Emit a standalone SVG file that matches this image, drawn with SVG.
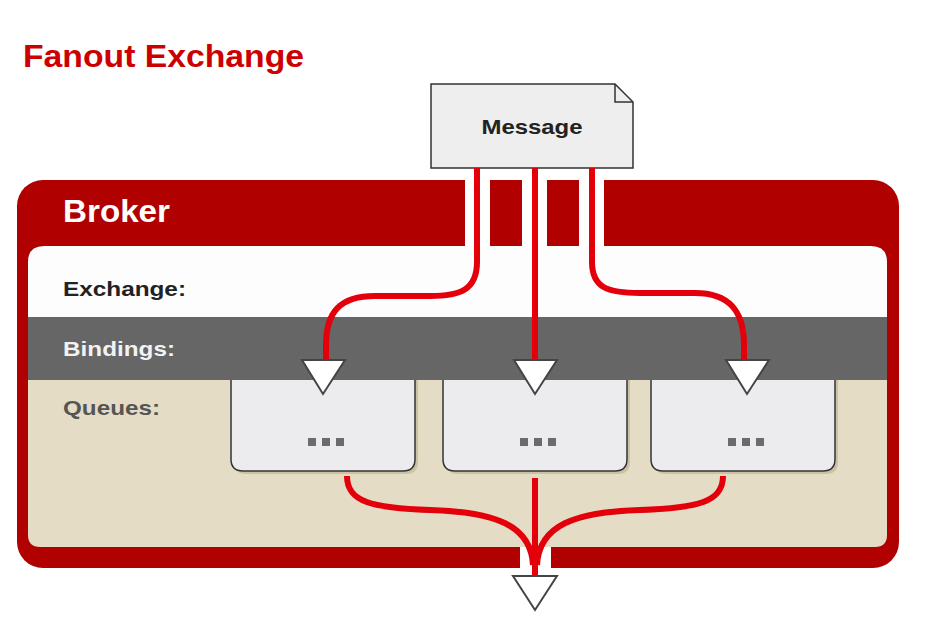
<svg xmlns="http://www.w3.org/2000/svg" width="926" height="634" viewBox="0 0 926 634">
<defs>
<style>
.lbl{font-family:"Liberation Sans",Arial,sans-serif;font-weight:bold}
.wire{fill:none;stroke:#e4000a;stroke-width:6;stroke-linecap:butt}
.arrow{fill:#ffffff;stroke:#444444;stroke-width:2;stroke-linejoin:miter}
.queue{fill:#ececef;stroke:#333333;stroke-width:1.5}
.qshadow{fill:#cbc2a4}
.dot{fill:#6b6b6b}
</style>
</defs>
<rect width="926" height="634" fill="#ffffff"/>
<text class="lbl" x="23" y="67" font-size="31" fill="#cc0000" textLength="281" lengthAdjust="spacingAndGlyphs">Fanout Exchange</text>

<g id="broker">
<rect x="17" y="180" width="882" height="388" rx="26" fill="#b00000"/>
<rect x="465" y="180" width="25" height="66" fill="#ffffff"/>
<rect x="522" y="180" width="25" height="66" fill="#ffffff"/>
<rect x="579" y="180" width="25" height="66" fill="#ffffff"/>
<rect x="520" y="547" width="31" height="21" fill="#ffffff"/>
<text class="lbl" x="63" y="222" font-size="31" fill="#ffffff" textLength="107" lengthAdjust="spacingAndGlyphs">Broker</text>
</g>

<g id="exchange">
<path d="M28,262 Q28,246 44,246 L871,246 Q887,246 887,262 L887,317 L28,317 Z" fill="#fdfdfe"/>
<text class="lbl" x="63" y="296" font-size="21" fill="#222222" textLength="123" lengthAdjust="spacingAndGlyphs">Exchange:</text>
</g>

<g id="queues-band">
<path d="M28,380 L887,380 L887,535 Q887,547 875,547 L40,547 Q28,547 28,535 Z" fill="#e4dcc4"/>
<text class="lbl" x="63" y="415" font-size="21" fill="#555555" textLength="97" lengthAdjust="spacingAndGlyphs">Queues:</text>
</g>

<g id="queue1">
<path class="qshadow" d="M234,380 L418,380 L418,462 Q418,474 406,474 L246,474 Q234,474 234,462 Z"/>
<path class="queue" d="M231,372 L415,372 L415,459 Q415,471 403,471 L243,471 Q231,471 231,459 Z"/>
<rect class="dot" x="308" y="438" width="8" height="8"/>
<rect class="dot" x="322" y="438" width="8" height="8"/>
<rect class="dot" x="336" y="438" width="8" height="8"/>
</g>
<g id="queue2">
<path class="qshadow" d="M446,380 L630,380 L630,462 Q630,474 618,474 L458,474 Q446,474 446,462 Z"/>
<path class="queue" d="M443,372 L627,372 L627,459 Q627,471 615,471 L455,471 Q443,471 443,459 Z"/>
<rect class="dot" x="520" y="438" width="8" height="8"/>
<rect class="dot" x="534" y="438" width="8" height="8"/>
<rect class="dot" x="548" y="438" width="8" height="8"/>
</g>
<g id="queue3">
<path class="qshadow" d="M654,380 L838,380 L838,462 Q838,474 826,474 L666,474 Q654,474 654,462 Z"/>
<path class="queue" d="M651,372 L835,372 L835,459 Q835,471 823,471 L663,471 Q651,471 651,459 Z"/>
<rect class="dot" x="728" y="438" width="8" height="8"/>
<rect class="dot" x="742" y="438" width="8" height="8"/>
<rect class="dot" x="756" y="438" width="8" height="8"/>
</g>

<g id="bindings">
<rect x="28" y="317" width="859" height="63" fill="#666666"/>
<text class="lbl" x="63" y="356" font-size="21" fill="#f2f2f2" textLength="112" lengthAdjust="spacingAndGlyphs">Bindings:</text>
</g>

<g id="message">
<path d="M431,84 L615,84 L633,102 L633,168 L431,168 Z" fill="#eeeeee" stroke="#333333" stroke-width="1.5"/>
<path d="M615,84 L615,102 L633,102" fill="none" stroke="#333333" stroke-width="1.5"/>
<text class="lbl" x="532" y="134" font-size="21" fill="#222222" text-anchor="middle" textLength="101" lengthAdjust="spacingAndGlyphs">Message</text>
</g>

<g id="connectors">
<path class="wire" d="M477,168 L477,262 C477,290 460,296 430,296 L375,296 C340,296 326,312 326,345 L326,362"/>
<path class="wire" d="M535,168 L535,362"/>
<path class="wire" d="M592,168 L592,262 C592,288 608,293 640,293 L695,293 C730,293 744,312 744,345 L744,362"/>
<path class="wire" d="M347,476 C347,502 372,508 430,510 C495,512 531,525 533,565"/>
<path class="wire" d="M723,476 C723,502 698,508 640,510 C575,512 539,525 537,565"/>
<path class="wire" d="M535,478 L535,576"/>
<polygon class="arrow" points="302,360 345,360 323,394"/>
<polygon class="arrow" points="514,360 557,360 535,394"/>
<polygon class="arrow" points="726,360 769,360 747,394"/>
<polygon class="arrow" points="513,576 557,576 535,610"/>
</g>
</svg>
